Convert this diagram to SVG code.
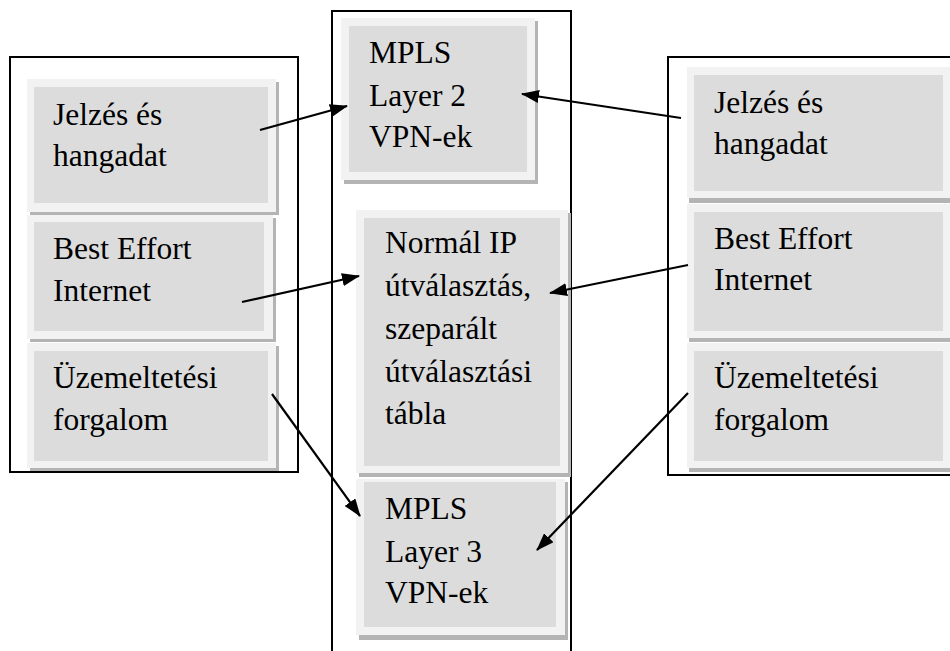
<svg xmlns="http://www.w3.org/2000/svg" width="950" height="651" viewBox="0 0 950 651">
<style>
.frame{fill:#fff;stroke:#000;stroke-width:2}
.sh{fill:#b4b4b4}
.lt{fill:#f2f2f2}
.in{fill:#dcdcdc}
.c{stroke:#000;stroke-width:2.2;fill:none;marker-end:url(#ah)}
</style>
<defs>
<marker id="ah" viewBox="0 0 18 13" refX="17" refY="6.5" markerWidth="18" markerHeight="13" markerUnits="userSpaceOnUse" orient="auto">
<path d="M0,0 L18,6.5 L0,13 Z" fill="#000"/>
</marker>
</defs>
<rect width="950" height="651" fill="#fff"/>
<g id="frames">
<rect class="frame" x="10" y="57" width="288" height="415"/>
<rect class="frame" x="332" y="11" width="239" height="660"/>
<rect class="frame" x="668" y="57" width="300" height="418"/>
</g>
<g font-size="31.5" fill="#000" font-family="Liberation Serif, Times New Roman, serif">
<g id="l1"><rect class="sh" x="30" y="82" width="249" height="133"/><rect class="lt" x="27" y="79" width="249" height="133"/><rect class="in" x="34" y="87" width="234" height="116"/><text x="53" y="125">Jelzés és</text><text x="53" y="166">hangadat</text></g>
<g id="l2"><rect class="sh" x="30" y="218" width="246" height="124"/><rect class="lt" x="27" y="215" width="246" height="124"/><rect class="in" x="34" y="222" width="230" height="109"/><text x="53" y="259">Best Effort</text><text x="53" y="301">Internet</text></g>
<g id="l3"><rect class="sh" x="30" y="346" width="249" height="125"/><rect class="lt" x="27" y="343" width="249" height="125"/><rect class="in" x="34" y="351" width="234" height="110"/><text x="53" y="388">Üzemeltetési</text><text x="53" y="430">forgalom</text></g>
<g id="m1"><rect class="sh" x="344" y="21" width="194" height="163"/><rect class="lt" x="341" y="18" width="194" height="162"/><rect class="in" x="349" y="26" width="178" height="146"/><text x="369" y="63">MPLS</text><text x="369" y="106">Layer 2</text><text x="369" y="147">VPN-ek</text></g>
<g id="m2"><rect class="sh" x="359" y="213" width="212" height="264"/><rect class="lt" x="356" y="210" width="212" height="263"/><rect class="in" x="364" y="218" width="196" height="248"/><text x="385" y="253">Normál IP</text><text x="385" y="296">útválasztás,</text><text x="385" y="339">szeparált</text><text x="385" y="382">útválasztási</text><text x="385" y="424">tábla</text></g>
<g id="m3"><rect class="sh" x="359" y="482" width="209" height="158"/><rect class="lt" x="356" y="479" width="209" height="156"/><rect class="in" x="364" y="482" width="192" height="145"/><text x="385" y="519">MPLS</text><text x="385" y="562">Layer 3</text><text x="385" y="603">VPN-ek</text></g>
<g id="r1"><rect class="sh" x="689" y="70" width="270" height="133"/><rect class="lt" x="687" y="67" width="270" height="131"/><rect class="in" x="694" y="75" width="249" height="116"/><text x="714" y="113">Jelzés és</text><text x="714" y="154">hangadat</text></g>
<g id="r2"><rect class="sh" x="689" y="207" width="270" height="135"/><rect class="lt" x="687" y="204" width="270" height="134"/><rect class="in" x="694" y="212" width="249" height="119"/><text x="714" y="249">Best Effort</text><text x="714" y="290">Internet</text></g>
<g id="r3"><rect class="sh" x="689" y="346" width="270" height="126"/><rect class="lt" x="687" y="343" width="270" height="125"/><rect class="in" x="694" y="351" width="249" height="110"/><text x="714" y="388">Üzemeltetési</text><text x="714" y="430">forgalom</text></g>
</g>
<g id="connectors">
<line class="c" x1="260" y1="130" x2="347" y2="106"/>
<line class="c" x1="681" y1="118" x2="522" y2="94"/>
<line class="c" x1="242" y1="302" x2="359" y2="276"/>
<line class="c" x1="688" y1="265" x2="550" y2="293"/>
<line class="c" x1="272" y1="394" x2="360" y2="516"/>
<line class="c" x1="688" y1="393" x2="537" y2="550"/>
</g>
</svg>
